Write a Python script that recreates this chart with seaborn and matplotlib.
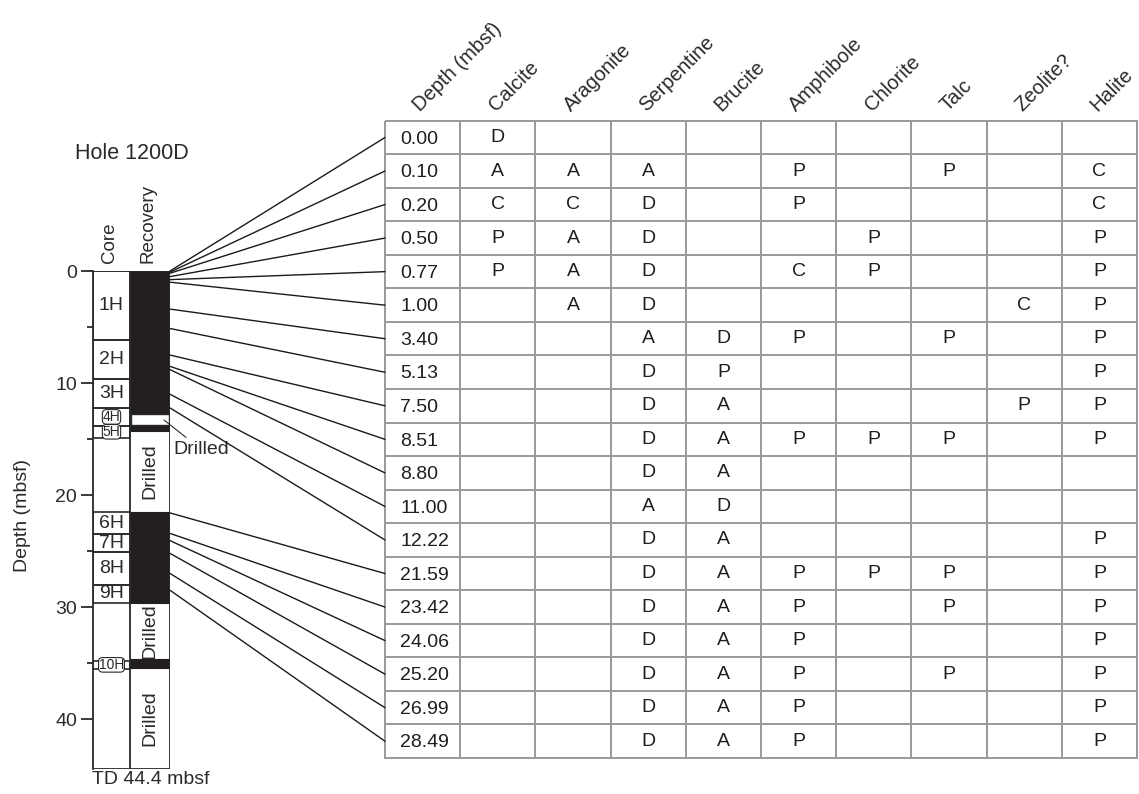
import numpy as np
import matplotlib
matplotlib.use("Agg")
import matplotlib.pyplot as plt
import matplotlib.transforms as mtransforms
from matplotlib.colors import ListedColormap
from matplotlib.patches import ConnectionPatch
import seaborn as sns

sns.set_theme(style="white")
plt.rcParams["font.family"] = ["Liberation Sans", "DejaVu Sans"]

# ---- sample table -------------------------------------------------------
depths = [0.00, 0.10, 0.20, 0.50, 0.77, 1.00, 3.40, 5.13, 7.50, 8.51,
          8.80, 11.00, 12.22, 21.59, 23.42, 24.06, 25.20, 26.99, 28.49]
minerals = ["Calcite", "Aragonite", "Serpentine", "Brucite", "Amphibole",
            "Chlorite", "Talc", "Zeolite?", "Halite"]
calcite    = ["D", "A", "C", "P", "P", "", "", "", "", "", "", "", "", "", "", "", "", "", ""]
aragonite  = ["", "A", "C", "A", "A", "A", "", "", "", "", "", "", "", "", "", "", "", "", ""]
serpentine = ["", "A", "D", "D", "D", "D", "A", "D", "D", "D", "D", "A", "D", "D", "D", "D", "D", "D", "D"]
brucite    = ["", "", "", "", "", "", "D", "P", "A", "A", "A", "D", "A", "A", "A", "A", "A", "A", "A"]
amphibole  = ["", "P", "P", "", "C", "", "P", "", "", "P", "", "", "", "P", "P", "P", "P", "P", "P"]
chlorite   = ["", "", "", "P", "P", "", "", "", "", "P", "", "", "", "P", "", "", "", "", ""]
talc       = ["", "P", "", "", "", "", "P", "", "", "P", "", "", "", "P", "P", "", "P", "", ""]
zeolite    = ["", "", "", "", "", "C", "", "", "P", "", "", "", "", "", "", "", "", "", ""]
halite     = ["", "C", "C", "P", "P", "P", "P", "P", "P", "P", "", "", "P", "P", "P", "P", "P", "P", "P"]

# ---- hole column --------------------------------------------------------
core_names = ["1H", "2H", "3H", "4H", "5H", "6H", "7H", "8H", "9H", "10H"]
core_top = [0.0, 6.2, 9.65, 12.24, 13.8, 21.5, 23.5, 25.1, 28.0, 34.8]
core_bot = [6.2, 9.65, 12.24, 13.8, 14.9, 23.5, 25.1, 28.0, 29.6, 35.5]
recovered_top = [0.0, 13.7, 21.5, 34.6]
recovered_bot = [12.8, 14.3, 29.6, 35.4]
drilled_top = [14.3, 29.6, 35.4]
drilled_bot = [21.5, 34.6, 44.4]
gap_top, gap_bot = 12.8, 13.7
total_depth = 44.4

W, H = 1139, 794
fig = plt.figure(figsize=(W / 100, H / 100), dpi=100)
fig.patch.set_facecolor("white")

FS = 14
ink = "#2a2a2a"
fill_black = "#231f20"

# ---- left: core / recovery column --------------------------------------
axL = fig.add_axes([93 / W, 1 - 768.5 / H, 77 / W, 497.5 / H])
axL.set_xlim(0, 77)
axL.set_ylim(total_depth, 0)
axL.set_facecolor("none")
for s in ["top", "right", "bottom"]:
    axL.spines[s].set_visible(False)
axL.spines["left"].set_color(ink)
axL.spines["left"].set_linewidth(1.3)
axL.set_xticks([])
axL.set_yticks([0, 10, 20, 30, 40])
axL.set_yticks([5, 15, 25, 35], minor=True)
axL.tick_params(axis="y", which="major", length=8.6, width=1.3, color=ink,
                labelsize=FS, labelcolor=ink, pad=3.0, left=True)
axL.tick_params(axis="y", which="minor", length=4.3, width=1.3, color=ink, left=True)
axL.grid(False)

core_mid, core_w = 18.5, 37
rec_mid, rec_w = 57, 40

# recovered intervals (black)
rec_len = [b - t for t, b in zip(recovered_top, recovered_bot)]
axL.bar(rec_mid, rec_len, bottom=recovered_top, width=rec_w, color=fill_black,
        edgecolor=fill_black, linewidth=0.8, align="center")
# small unrecovered gap inside core 4H
axL.bar(rec_mid, gap_bot - gap_top, bottom=gap_top, width=rec_w - 2, color="white",
        edgecolor=ink, linewidth=1.0)
# core boxes; very short cores get a compact bracketed label
core_len = [b - t for t, b in zip(core_top, core_bot)]
axL.bar(core_mid, core_len, bottom=core_top, width=core_w, fill=False,
        edgecolor=ink, linewidth=1.2)
for name, t, b in zip(core_names, core_top, core_bot):
    small = (b - t) < 1.58
    axL.text(core_mid, (t + b) / 2, name, ha="center", va="center",
             fontsize=10 if small else FS, color=ink,
             bbox=dict(boxstyle="round,pad=0.02,rounding_size=0.3", fc="white",
                       ec=ink, lw=0.8) if small else None)

# column outlines
axL.vlines([core_w, 77], 0, total_depth, color=ink, lw=1.3)
axL.hlines(total_depth, 0, 77, color=ink, lw=1.3)
axL.hlines(0, 0, 77, color=ink, lw=1.3)

for t, b in zip(drilled_top, drilled_bot):
    axL.text(rec_mid, (t + b) / 2, "Drilled", rotation=90, ha="center", va="center",
             fontsize=FS, color=ink)

axL.plot([71, 93], [13.3, 14.85], color=ink, lw=0.8, clip_on=False)
axL.text(80, 15.9, "Drilled", ha="left", va="center", fontsize=FS, color=ink, clip_on=False)

axL.text(0.506, 1.237, "Hole 1200D", transform=axL.transAxes, ha="center",
         va="center", fontsize=15.5, color=ink)
axL.text(0.22, 1.016, "Core", transform=axL.transAxes, rotation=90, ha="center",
         va="bottom", fontsize=13.5, color=ink)
axL.text(0.714, 1.016, "Recovery", transform=axL.transAxes, rotation=90, ha="center",
         va="bottom", fontsize=13.5, color=ink)
axL.text(-0.01, -0.023, "TD 44.4 mbsf", transform=axL.transAxes, ha="left",
         va="center", fontsize=FS, color=ink)
axL.text(-0.922, 0.508, "Depth (mbsf)", transform=axL.transAxes, rotation=90,
         ha="center", va="center", fontsize=FS, color=ink)

# ---- right: mineralogy table -------------------------------------------
axT = fig.add_axes([385 / W, 1 - 758 / H, 752 / W, (758 - 120.7) / H])
columns = [calcite, aragonite, serpentine, brucite, amphibole, chlorite, talc, zeolite, halite]
annot = np.array([[""] + [col[i] for col in columns] for i in range(len(depths))])
grid = np.zeros(annot.shape)
sns.heatmap(grid, ax=axT, cmap=ListedColormap(["white"]), vmin=0, vmax=1, cbar=False,
            linewidths=1.4, linecolor="#9b9b9b", annot=annot, fmt="",
            annot_kws=dict(fontsize=FS, color="#1e1e1e"),
            xticklabels=["Depth (mbsf)"] + minerals, yticklabels=False)
axT.collections[0].set_clip_on(False)
for i, d in enumerate(depths):
    axT.text(0.2, i + 0.55, f"{d:.2f}", ha="left", va="center", fontsize=FS,
             color="#1e1e1e")

axT.xaxis.tick_top()
axT.tick_params(axis="x", length=0, pad=6.5)
shift = mtransforms.ScaledTranslation(-2 / 100, 0, fig.dpi_scale_trans)
for lbl in axT.get_xticklabels():
    lbl.set_rotation(45)
    lbl.set_ha("left")
    lbl.set_va("baseline")
    lbl.set_rotation_mode("anchor")
    lbl.set_fontsize(14.5)
    lbl.set_color(ink)
    lbl.set_transform(lbl.get_transform() + shift)

# ---- tie lines from sample depth to table row --------------------------
for i, d in enumerate(depths):
    con = ConnectionPatch(xyA=(77, d), coordsA=axL.transData,
                          xyB=(0, i + 0.5), coordsB=axT.transData,
                          color="#1a1a1a", lw=1.0)
    fig.add_artist(con)

fig.savefig("out.png", dpi=100, facecolor="white")
